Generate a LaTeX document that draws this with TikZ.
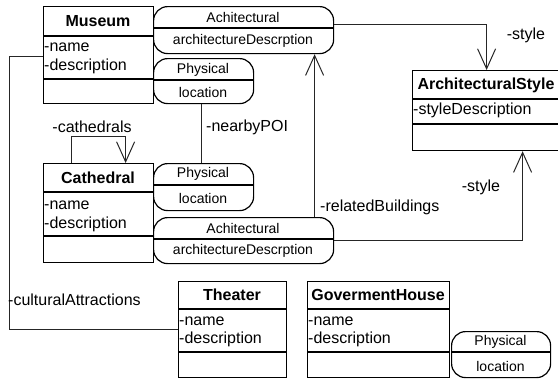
\documentclass[tikz,border=0pt]{standalone}
\usepackage{fontspec}
\setmainfont{Liberation Sans}
\usetikzlibrary{arrows.meta,calc}
\tikzset{
  cls/.style={draw, line width=1.2pt, anchor=north west, inner sep=0pt},
  capsule/.style={draw, line width=1.2pt, rounded corners=14pt, anchor=north west, inner sep=0pt},
  sep/.style={line width=1.2pt},
  hdr/.style={font=\fontsize{16}{18}\selectfont\bfseries, inner sep=0pt},
  attr/.style={font=\fontsize{16}{19}\selectfont, anchor=west, inner sep=0pt},
  captxt/.style={font=\fontsize{14}{16}\selectfont, inner sep=0pt},
  lbl/.style={font=\fontsize{16}{18}\selectfont, inner sep=0pt},
  conn/.style={draw=black!85, line width=1pt},
  assoc/.style={conn, -{Straight Barb[length=20pt,width=18pt]}},
}
\begin{document}
\begin{tikzpicture}[x=1pt, y=-1pt]
\useasboundingbox (0,0) rectangle (558,381);

% ---- Museum ----
\node[cls, minimum width=110pt, minimum height=97pt] (museum) at (43,6) {};
\draw[sep] (43,36) -- (153,36);
\draw[sep] (43,79) -- (153,79);
\node[hdr] (museumT) at (98,21) {Museum};
\node[attr] (museumA1) at (44,47.5) {-name};
\node[attr] (museumA2) at (44,66.5) {-description};

% ---- Achitectural (Museum) ----
\node[capsule, minimum width=180pt, minimum height=47pt] (achA) at (153,6) {};
\draw[sep] (153,28) -- (333,28);
\node[captxt] (achAT) at (243,17) {Achitectural};
\node[captxt] (achAD) at (243,41) {architectureDescrption};

% ---- Physical (Museum) ----
\node[capsule, minimum width=100pt, minimum height=45pt] (phyA) at (153,58) {};
\draw[sep] (153,80) -- (253,80);
\node[captxt] (phyAT) at (203,70) {Physical};
\node[captxt] (phyAD) at (203,92) {location};

% ---- ArchitecturalStyle ----
\node[cls, minimum width=148pt, minimum height=80pt] (style) at (412,70) {};
\draw[sep] (412,99) -- (560,99);
\draw[sep] (412,124) -- (560,124);
\node[hdr] (styleT) at (486,85) {ArchitecturalStyle};
\node[attr] (styleA1) at (413,110) {-styleDescription};

% ---- Cathedral ----
\node[cls, minimum width=110pt, minimum height=99pt] (cath) at (43,163) {};
\draw[sep] (43,192) -- (153,192);
\draw[sep] (43,236) -- (153,236);
\node[hdr] (cathT) at (98,178) {Cathedral};
\node[attr] (cathA1) at (44,205) {-name};
\node[attr] (cathA2) at (44,224) {-description};

% ---- Physical (Cathedral) ----
\node[capsule, minimum width=100pt, minimum height=47pt] (phyB) at (153,163) {};
\draw[sep] (153,185) -- (253,185);
\node[captxt] (phyBT) at (203,174) {Physical};
\node[captxt] (phyBD) at (203,198) {location};

% ---- Achitectural (Cathedral) ----
\node[capsule, minimum width=180pt, minimum height=46pt] (achB) at (153,217) {};
\draw[sep] (153,239) -- (333,239);
\node[captxt] (achBT) at (243,228) {Achitectural};
\node[captxt] (achBD) at (243,251) {architectureDescrption};

% ---- Theater ----
\node[cls, minimum width=108pt, minimum height=96pt] (theater) at (178,281) {};
\draw[sep] (178,309) -- (286,309);
\draw[sep] (178,352) -- (286,352);
\node[hdr] (theaterT) at (232,295) {Theater};
\node[attr] (theaterA1) at (179,321) {-name};
\node[attr] (theaterA2) at (179,339.5) {-description};

% ---- GovermentHouse ----
\node[cls, minimum width=142pt, minimum height=96pt] (gov) at (307,281) {};
\draw[sep] (307,309) -- (449,309);
\draw[sep] (307,352) -- (449,352);
\node[hdr] (govT) at (378,295) {GovermentHouse};
\node[attr] (govA1) at (308,321) {-name};
\node[attr] (govA2) at (308,339.5) {-description};

% ---- Physical (GovermentHouse) ----
\node[capsule, minimum width=99pt, minimum height=46pt] (phyC) at (451,331) {};
\draw[sep] (451,352) -- (550,352);
\node[captxt] (phyCT) at (500.5,342) {Physical};
\node[captxt] (phyCD) at (500.5,366) {location};

% ---- Connectors ----
\draw[assoc] (achA.east |- 0,24) -| (style.north);
\node[lbl] (lStyleTop) at (526,35) {-style};

\draw[assoc] (achB.east |- 0,240) -| ([xshift=36pt]style.south);
\node[lbl] (lStyleBot) at (481,187) {-style};

\draw[conn] ([xshift=-2pt]phyA.south) -- ([xshift=-2pt]phyB.north);
\node[lbl, anchor=west] (lPOI) at (206,127) {-nearbyPOI};

\draw[assoc] ([xshift=71pt]achB.north) -- ([xshift=71pt]achA.south);
\node[lbl, anchor=west] (lRel) at (320,207) {-relatedBuildings};

\draw[assoc] ([xshift=-27pt]cath.north) -- ++(0,-27) -| ([xshift=27pt]cath.north);
\node[lbl] (lCath) at (92,127) {-cathedrals};

\draw[conn] (museum.west |- 0,56) -- (9,56) |- (theater.west |- 0,329);
\node[lbl, anchor=west] (lCult) at (8,300) {-culturalAttractions};
\end{tikzpicture}
\end{document}
